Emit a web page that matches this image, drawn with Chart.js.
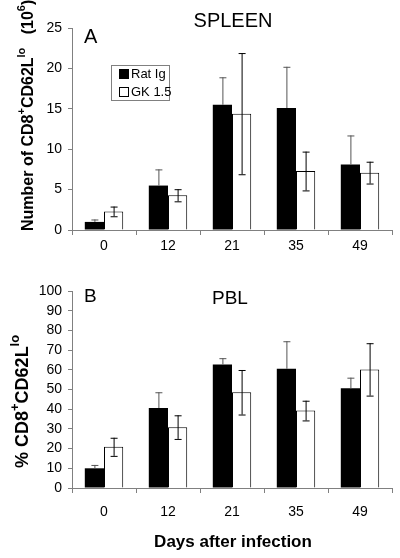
<!DOCTYPE html>
<html>
<head>
<meta charset="utf-8">
<script src="https://cdn.jsdelivr.net/npm/chart.js@4.4.0/dist/chart.umd.min.js"></script>
<style>
  body { margin:0; background:#fff; }
  canvas { display:block; }
</style>
</head>
<body>
<canvas id="spleen" width="400" height="262"></canvas>
<canvas id="pbl" width="400" height="296"></canvas>
<script>
// days after infection
const days = ['0','12','21','35','49'];
const groups = ['Rat Ig','GK 1.5'];

// panel A, spleen (10^6 cells)
const spleenRat = [1.0, 5.5, 15.5, 15.1, 8.1];
const spleenRatErr = [0.3, 2.0, 3.4, 5.1, 3.6];
const spleenGK = [2.3, 4.3, 14.4, 7.3, 7.1];
const spleenGKErr = [0.6, 0.75, 7.5, 2.4, 1.35];

// panel B, PBL (%)
const pblRat = [10, 40.6, 62.7, 60.5, 50.6];
const pblRatErr = [1.7, 8, 3.2, 14, 5.4];
const pblGK = [20.9, 30.9, 48.6, 39.3, 60.2];
const pblGKErr = [4.6, 6, 11.3, 5, 13.3];

const FONT = 'Liberation Sans, Arial, sans-serif';
Chart.defaults.font.family = FONT;
Chart.defaults.color = '#000';

// error bars, black bars only show the upper whisker
const errorBars = {
  id: 'errorBars',
  afterDatasetsDraw(chart) {
    const ctx = chart.ctx;
    const yScale = chart.scales.y;
    chart.data.datasets.forEach((ds, i) => {
      const meta = chart.getDatasetMeta(i);
      meta.data.forEach((bar, j) => {
        const v = ds.data[j], e = ds.err[j];
        const top = yScale.getPixelForValue(v + e);
        const bot = ds.showLower ? yScale.getPixelForValue(v - e) : bar.y;
        ctx.save();
        ctx.strokeStyle = ds.errColor;
        ctx.lineWidth = 1;
        ctx.beginPath();
        ctx.moveTo(bar.x + 0.5, top);
        ctx.lineTo(bar.x + 0.5, bot);
        ctx.moveTo(bar.x - 3, top + 0.5);
        ctx.lineTo(bar.x + 4, top + 0.5);
        if (ds.showLower) {
          ctx.moveTo(bar.x - 3, bot + 0.5);
          ctx.lineTo(bar.x + 4, bot + 0.5);
        }
        ctx.stroke();
        ctx.restore();
      });
    });
  }
};

// rotated y title with superscripts
function drawYTitle(ctx, x, y, size, parts) {
  ctx.save();
  ctx.translate(x, y);
  ctx.rotate(-Math.PI / 2);
  ctx.fillStyle = '#000';
  ctx.textBaseline = 'alphabetic';
  ctx.textAlign = 'left';
  let pos = 0;
  const supSize = Math.round(size * 0.7);
  parts.forEach(p => {
    ctx.font = 'bold ' + (p.sup ? supSize : size) + 'px ' + FONT;
    ctx.fillText(p.t, pos, p.sup ? -size * 0.5 : 0);
    pos += ctx.measureText(p.t).width;
  });
  ctx.restore();
}

function makeChart(id, rat, ratErr, gk, gkErr, maxY, step, extras, xHeight, ticksPad) {
  return new Chart(document.getElementById(id), {
    type: 'bar',
    data: {
      labels: days,
      datasets: [
        { label: groups[0], data: rat, err: ratErr, showLower: false, errColor: '#555',
          backgroundColor: '#000', borderColor: '#000', borderWidth: 0 },
        { label: groups[1], data: gk, err: gkErr, showLower: true, errColor: '#000',
          backgroundColor: '#fff', borderColor: '#000', borderWidth: 1 }
      ]
    },
    options: {
      responsive: false,
      animation: false,
      devicePixelRatio: 1,
      layout: { padding: { top: extras.padTop, right: 8, left: 0, bottom: 0 } },
      datasets: { bar: { categoryPercentage: 0.6, barPercentage: 1.0 } },
      plugins: { legend: { display: false }, tooltip: { enabled: false } },
      scales: {
        x: {
          afterFit: s => { s.height = xHeight; },
          border: { color: '#808080' },
          grid: { offset: true, drawOnChartArea: false, tickLength: 5, color: '#808080' },
          ticks: { font: { size: 14 }, padding: ticksPad, color: '#000' }
        },
        y: {
          min: 0, max: maxY,
          afterFit: s => { s.width = 72; },
          border: { color: '#808080' },
          grid: { drawOnChartArea: false, tickLength: 4, color: '#808080' },
          ticks: { stepSize: step, autoSkip: false, font: { size: 14 }, padding: 6, color: '#000' }
        }
      }
    },
    plugins: [errorBars, { id: 'labels', afterDraw: extras.draw }]
  });
}

makeChart('spleen', spleenRat, spleenRatErr, spleenGK, spleenGKErr, 25, 5, {
  padTop: 28,
  draw(chart) {
    const ctx = chart.ctx;
    ctx.save();
    ctx.fillStyle = '#000';
    ctx.textBaseline = 'middle';
    ctx.font = '20px ' + FONT;
    ctx.textAlign = 'left';
    ctx.fillText('A', 84, 37);
    ctx.textAlign = 'center';
    ctx.fillText('SPLEEN', 233, 21);
    // legend box
    ctx.strokeStyle = '#808080';
    ctx.lineWidth = 1;
    ctx.strokeRect(111.5, 65.5, 58, 35);
    ctx.fillStyle = '#000';
    ctx.fillRect(119, 69, 10, 10);
    ctx.strokeStyle = '#000';
    ctx.strokeRect(119.5, 87.5, 9, 9);
    ctx.font = '13px ' + FONT;
    ctx.textAlign = 'left';
    ctx.fillText(groups[0], 131, 74);
    ctx.fillText(groups[1], 131, 92);
    ctx.restore();
    drawYTitle(ctx, 33, 231, 16, [
      { t: 'Number of CD8' }, { t: '+', sup: true }, { t: 'CD62L' }, { t: 'lo', sup: true },
      { t: '   (10' }, { t: '6', sup: true }, { t: ')' }
    ]);
  }
}, 32, 3);

makeChart('pbl', pblRat, pblRatErr, pblGK, pblGKErr, 100, 10, {
  padTop: 29,
  draw(chart) {
    const ctx = chart.ctx;
    ctx.save();
    ctx.fillStyle = '#000';
    ctx.textBaseline = 'middle';
    ctx.font = '19px ' + FONT;
    ctx.textAlign = 'left';
    ctx.fillText('B', 84, 35);
    ctx.fillText('PBL', 212, 37);
    ctx.font = 'bold 17px ' + FONT;
    ctx.textAlign = 'center';
    ctx.fillText('Days after infection', 233, 280);
    ctx.restore();
    drawYTitle(ctx, 28, 206, 18, [
      { t: '% CD8' }, { t: '+', sup: true }, { t: 'CD62L' }, { t: 'lo', sup: true }
    ]);
  }
}, 70, 11);
</script>
</body>
</html>
